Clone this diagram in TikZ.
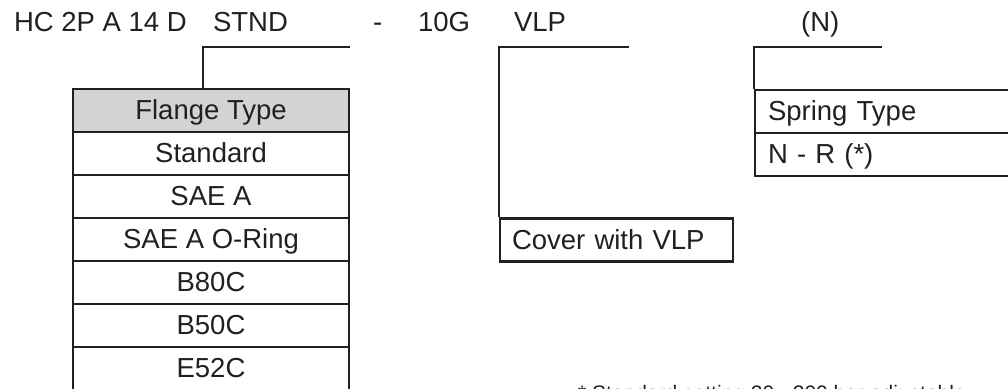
\documentclass[tikz,border=0pt]{standalone}
\usepackage{fontspec}
\setmainfont{Liberation Sans}
\definecolor{ink}{HTML}{231F20}
\definecolor{hdr}{HTML}{D1D3D4}
\tikzset{
  bigfont/.style={font=\fontsize{27.5}{30}\selectfont},
  code/.style={bigfont, text=ink, anchor=base west, inner sep=0pt},
  cell/.style={draw=ink, rectangle, minimum height=43pt, text height=22pt, text depth=4pt,
    inner ysep=0pt, bigfont, text=ink},
  flangecell/.style={cell, minimum width=276pt, inner xsep=0pt},
  leftcell/.style={cell, inner xsep=#1, align=left},
  bracket/.style={draw=ink}
}
\begin{document}
\begin{tikzpicture}[x=1pt,y=-1pt,line width=2.2pt]
\useasboundingbox (0,0) rectangle (1008,388);
\clip (0,0) rectangle (1008,388);
% code line
\node[code] (c1) at (13,31.5) {HC 2P A 14 D};
\node[code] (c2) at (212,31.5) {STND};
\node[code] (c3) at (372,31.5) {-};
\node[code] (c4) at (417,31.5) {10G};
\node[code] (c5) at (513,31.5) {VLP};
\node[code] (c6) at (800,31.5) {(N)};
% flange table
\node[flangecell, fill=hdr] (ft) at (211,110.5) {Flange Type};
\node[flangecell] (f1) at (211,153.5) {Standard};
\node[flangecell] (f2) at (211,196.5) {SAE A};
\node[flangecell] (f3) at (211,239.5) {SAE A O-Ring};
\node[flangecell] (f4) at (211,282.5) {B80C};
\node[flangecell] (f5) at (211,325.5) {B50C};
\node[flangecell] (f6) at (211,368.5) {E52C};
% cover box
\node[leftcell=12pt, text width=209pt] (cov) at (616.5,240) {Cover with VLP};
% spring table
\node[leftcell=13pt, text width=274pt] (st) at (905,111.5) {Spring Type};
\node[leftcell=13pt, text width=274pt] (s1) at (905,154.5) {N - R (*)};
% brackets
\coordinate (b1) at (203,47);
\coordinate (b1e) at (350,47);
\draw[bracket] (b1e) -- (b1) -- (b1 |- ft.north);
\coordinate (v1e) at (629,47);
\draw[bracket] (v1e) -- (cov.north west |- v1e) -- (cov.north west);
\coordinate (n1e) at (882,47);
\draw[bracket] (n1e) -- (st.north west |- n1e) -- (st.north west);
% footnote
\node[anchor=base west, inner sep=0pt, font=\fontsize{21}{24}\selectfont, text=ink] (note) at (577,400) {* Standard setting 20 - 200 bar adjustable};
\end{tikzpicture}
\end{document}
